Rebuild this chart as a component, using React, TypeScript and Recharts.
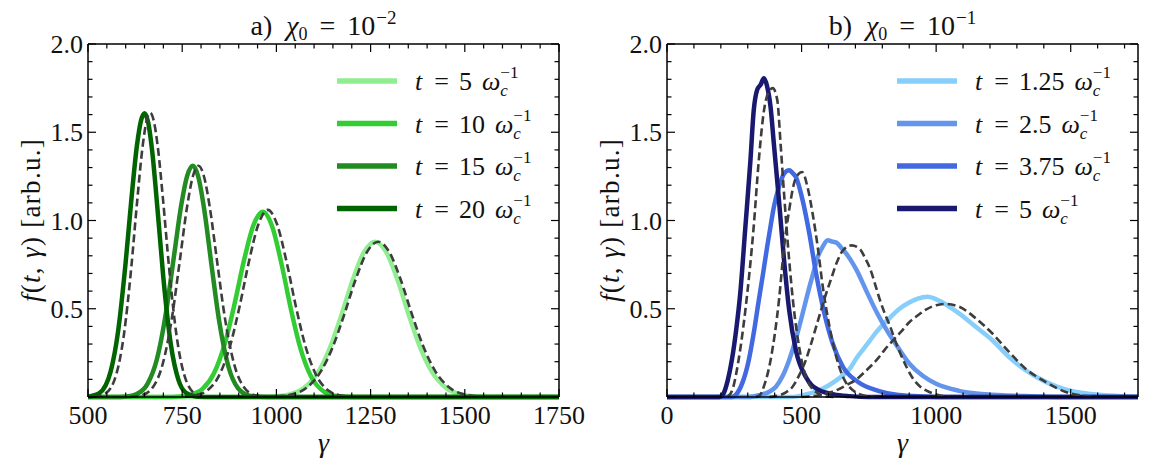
import React from "react";
import { LineChart, Line, XAxis, YAxis, Legend } from "recharts";

// ---------- panel a) chi0 = 1e-2 ----------
const gA5 = [500, 950, 992, 1032, 1072, 1112, 1142, 1172, 1202, 1232, 1262, 1292, 1322, 1352, 1382, 1412, 1452, 1492, 1532, 1580, 1750];
const fA5 = [0, 0, 0.003, 0.013, 0.049, 0.145, 0.278, 0.46, 0.66, 0.819, 0.88, 0.819, 0.66, 0.46, 0.278, 0.145, 0.049, 0.013, 0.003, 0, 0];
const gA10 = [500, 700, 744, 774, 804, 834, 864, 889, 914, 939, 964, 989, 1014, 1039, 1064, 1094, 1124, 1154, 1184, 1230, 1750];
const fA10 = [0, 0, 0.003, 0.013, 0.046, 0.133, 0.31, 0.528, 0.774, 0.973, 1.05, 0.965, 0.75, 0.493, 0.274, 0.108, 0.034, 0.008, 0.002, 0, 0];
const gA15 = [500, 570, 603, 628, 658, 683, 708, 728, 748, 763, 778, 793, 808, 828, 848, 873, 898, 928, 958, 1000, 1750];
const fA15 = [0, 0, 0.003, 0.015, 0.074, 0.215, 0.492, 0.795, 1.094, 1.252, 1.31, 1.245, 1.069, 0.744, 0.432, 0.17, 0.05, 0.008, 0.001, 0, 0];
const gA20 = [500, 530, 560, 580, 600, 615, 630, 640, 650, 660, 670, 685, 700, 720, 740, 760, 790, 830, 1750];
const fA20 = [0.002, 0.022, 0.144, 0.374, 0.764, 1.116, 1.427, 1.56, 1.607, 1.552, 1.399, 1.051, 0.676, 0.295, 0.097, 0.024, 0.002, 0, 0];

// model (dashed)
const mA5g = [1000, 1040, 1080, 1120, 1150, 1180, 1210, 1240, 1270, 1300, 1330, 1360, 1390, 1420, 1460, 1500, 1540];
const mA5f = [0.003, 0.014, 0.052, 0.152, 0.286, 0.467, 0.664, 0.82, 0.88, 0.82, 0.664, 0.467, 0.286, 0.152, 0.052, 0.014, 0.003];
const mA10g = [757, 787, 817, 847, 877, 902, 927, 952, 977, 1002, 1027, 1052, 1077, 1107, 1137, 1167, 1197];
const mA10f = [0.002, 0.01, 0.038, 0.118, 0.289, 0.51, 0.766, 0.977, 1.06, 0.977, 0.766, 0.51, 0.289, 0.118, 0.038, 0.01, 0.002];
const mA15g = [613, 643, 673, 698, 723, 743, 763, 778, 793, 808, 823, 843, 863, 888, 913, 943, 973];
const mA15f = [0.001, 0.01, 0.058, 0.185, 0.452, 0.762, 1.078, 1.248, 1.31, 1.248, 1.078, 0.762, 0.452, 0.185, 0.058, 0.01, 0.001];
const mA20g = [515, 545, 575, 595, 615, 630, 645, 655, 665, 675, 685, 700, 715, 735, 755, 785, 815];
const mA20f = [0.001, 0.018, 0.128, 0.348, 0.737, 1.098, 1.421, 1.56, 1.61, 1.56, 1.421, 1.098, 0.737, 0.348, 0.128, 0.018, 0.001];

// ---------- panel b) chi0 = 1e-1 ----------
const gB1 = [0, 450, 491, 530, 566, 600, 629, 655, 679, 704, 729, 754, 779, 804, 829, 864, 900, 932, 968, 1005, 1045, 1085, 1147, 1208, 1270, 1331, 1405, 1479, 1577, 1676, 1750];
const fB1 = [0, 0, 0.005, 0.02, 0.038, 0.065, 0.094, 0.125, 0.16, 0.22, 0.27, 0.32, 0.37, 0.413, 0.45, 0.5, 0.535, 0.558, 0.568, 0.55, 0.515, 0.474, 0.398, 0.323, 0.228, 0.153, 0.087, 0.043, 0.017, 0.006, 0.002];
const gB2 = [0, 300, 341, 380, 404, 430, 454, 475, 491, 510, 529, 545, 560, 578, 597, 615, 629, 645, 666, 685, 704, 741, 779, 816, 854, 900, 950, 1000, 1085, 1184, 1331, 1450, 1750];
const fB2 = [0, 0, 0.01, 0.03, 0.057, 0.12, 0.21, 0.31, 0.397, 0.51, 0.623, 0.71, 0.793, 0.85, 0.888, 0.88, 0.875, 0.85, 0.812, 0.77, 0.72, 0.6, 0.48, 0.38, 0.29, 0.19, 0.12, 0.075, 0.035, 0.015, 0.005, 0, 0];
const gB3 = [0, 240, 254, 280, 304, 322, 341, 357, 372, 385, 397, 416, 435, 454, 466, 479, 504, 529, 554, 585, 616, 654, 710, 785, 860, 950, 1050, 1750];
const fB3 = [0, 0, 0.01, 0.08, 0.21, 0.36, 0.548, 0.7, 0.85, 0.97, 1.076, 1.19, 1.265, 1.284, 1.27, 1.246, 1.114, 0.925, 0.699, 0.472, 0.302, 0.17, 0.085, 0.035, 0.011, 0.003, 0, 0];
const gB4 = [0, 195, 210, 225, 241, 257, 272, 291, 310, 322, 335, 348, 360, 372, 385, 397, 416, 435, 454, 479, 516, 566, 620, 680, 750, 1750];
const fB4 = [0, 0, 0.02, 0.09, 0.21, 0.38, 0.585, 0.96, 1.34, 1.62, 1.74, 1.77, 1.806, 1.76, 1.64, 1.435, 1.115, 0.774, 0.491, 0.264, 0.113, 0.038, 0.015, 0.005, 0, 0];

const mB1g = [500, 529, 580, 629, 670, 704, 740, 779, 810, 839, 870, 901, 930, 962, 1000, 1036, 1085, 1147, 1208, 1270, 1331, 1405, 1479, 1552, 1600];
const mB1f = [0, 0.003, 0.015, 0.038, 0.07, 0.1, 0.15, 0.21, 0.27, 0.32, 0.37, 0.425, 0.46, 0.495, 0.52, 0.527, 0.512, 0.446, 0.361, 0.257, 0.162, 0.087, 0.03, 0.006, 0];
const mB2g = [380, 404, 440, 466, 490, 516, 535, 554, 572, 591, 610, 629, 654, 685, 716, 735, 754, 775, 791, 810, 829, 850, 866, 890, 916, 940, 966, 1011, 1050];
const mB2f = [0, 0.005, 0.025, 0.057, 0.12, 0.21, 0.3, 0.397, 0.49, 0.585, 0.67, 0.755, 0.831, 0.859, 0.84, 0.79, 0.73, 0.63, 0.55, 0.47, 0.4, 0.31, 0.25, 0.17, 0.1, 0.06, 0.035, 0.01, 0];
const mB3g = [330, 345, 360, 385, 416, 435, 454, 472, 490, 502, 522, 541, 560, 579, 604, 629, 654, 691, 741, 770];
const mB3f = [0, 0.01, 0.06, 0.21, 0.548, 0.85, 1.06, 1.21, 1.265, 1.275, 1.19, 1.04, 0.85, 0.623, 0.397, 0.227, 0.113, 0.038, 0.005, 0];
const mB4g = [225, 245, 266, 291, 322, 341, 360, 375, 393, 410, 422, 435, 454, 472, 491, 516, 554, 591, 620];
const mB4f = [0, 0.05, 0.21, 0.49, 0.963, 1.34, 1.62, 1.72, 1.75, 1.68, 1.435, 1.15, 0.774, 0.49, 0.283, 0.113, 0.028, 0.003, 0];

// ---------- labels / ticks ----------
const timesA = ["5", "10", "15", "20"];
const timesB = ["1.25", "2.5", "3.75", "5"];
const colorsA = ["#90EE90", "#32CD32", "#228B22", "#006400"];
const colorsB = ["#87CEFA", "#6495ED", "#4169E1", "#191970"];
const xMajorA = [500, 750, 1000, 1250, 1500, 1750];
const xMajorB = [0, 500, 1000, 1500];
const yMajor = [0.5, 1.0, 1.5, 2.0];

const xTicksA = Array.from({ length: 26 }, (_, i) => 500 + i * 50);
const xTicksB = Array.from({ length: 18 }, (_, i) => i * 100);
const yTicks = Array.from({ length: 21 }, (_, i) => Math.round(i * 10) / 100);

const FONT = "'Liberation Serif', 'DejaVu Serif', serif";
const PLOT_TOP = 44;
const PLOT_BOTTOM = 397;
const DASH = "#3d3d3d";

const pts = (g: number[], f: number[]) => g.map((x, i) => ({ g: x, f: f[i] }));

const isMajor = (v: number, majors: number[]) => majors.some((m) => Math.abs(m - v) < 1e-6);

interface PanelProps {
  width: number;
  plotLeft: number;
  plotRight: number;
  domain: [number, number];
  xTicks: number[];
  xMajors: number[];
  solids: { g: number[]; f: number[] }[];
  models: { g: number[]; f: number[] }[];
  colors: string[];
  times: string[];
  letter: string;
  exponent: string;
  legendLeft: number;
}

const Panel: React.FC<PanelProps> = (p) => {
  const center = (p.plotLeft + p.plotRight) / 2;

  const bottomTick = (t: any) => {
    const v = t.payload.value;
    const major = isMajor(v, p.xMajors);
    return (
      <g>
        <line x1={t.x} x2={t.x} y1={PLOT_BOTTOM} y2={PLOT_BOTTOM - (major ? 8 : 4.5)} stroke="#000" strokeWidth={1.2} />
        {major && (
          <text x={t.x} y={PLOT_BOTTOM + 27} textAnchor="middle" fontSize={26} fontFamily={FONT} fill="#111">
            {v}
          </text>
        )}
      </g>
    );
  };
  const topTick = (t: any) => {
    const major = isMajor(t.payload.value, p.xMajors);
    return <line x1={t.x} x2={t.x} y1={PLOT_TOP} y2={PLOT_TOP + (major ? 8 : 4.5)} stroke="#000" strokeWidth={1.2} />;
  };
  const leftTick = (t: any) => {
    const v = t.payload.value;
    const major = Math.abs(v * 2 - Math.round(v * 2)) < 1e-6;
    const labelled = isMajor(v, yMajor);
    return (
      <g>
        <line x1={p.plotLeft} x2={p.plotLeft + (major ? 8 : 4.5)} y1={t.y} y2={t.y} stroke="#000" strokeWidth={1.2} />
        {labelled && (
          <text x={p.plotLeft - 5} y={t.y + 9} textAnchor="end" fontSize={26} fontFamily={FONT} fill="#111">
            {v.toFixed(1)}
          </text>
        )}
      </g>
    );
  };
  const rightTick = (t: any) => {
    const v = t.payload.value;
    const major = Math.abs(v * 2 - Math.round(v * 2)) < 1e-6;
    return <line x1={p.plotRight} x2={p.plotRight - (major ? 8 : 4.5)} y1={t.y} y2={t.y} stroke="#000" strokeWidth={1.2} />;
  };

  const title = () => (
    <text x={center} y={35} textAnchor="middle" fontSize={28} fontFamily={FONT} fill="#111">
      <tspan>{p.letter})</tspan>
      <tspan dx={14} fontStyle="italic">χ</tspan>
      <tspan fontSize={18} dy={5}>0</tspan>
      <tspan dx={12} dy={-5}>=</tspan>
      <tspan dx={12}>10</tspan>
      <tspan fontSize={19} dx={1} dy={-11}>−{p.exponent}</tspan>
    </text>
  );
  const xTitle = () => (
    <text x={center} y={452} textAnchor="middle" fontSize={28} fontFamily={FONT} fontStyle="italic" fill="#111">
      γ
    </text>
  );
  const yTitle = () => (
    <text transform={`translate(${p.plotLeft - 57},220) rotate(-90)`} textAnchor="middle" dominantBaseline="central"
      fontSize={27} letterSpacing={1.3} fontFamily={FONT} fill="#111">
      <tspan fontStyle="italic">f</tspan>
      <tspan>(</tspan>
      <tspan fontStyle="italic">t</tspan>
      <tspan>, </tspan>
      <tspan fontStyle="italic">γ</tspan>
      <tspan>) [arb.u.]</tspan>
    </text>
  );

  const legend = () => (
    <svg width={240} height={175}>
      {p.times.map((t, i) => {
        const y = 21 + i * 42.5;
        return (
          <g key={t}>
            <line x1={7} x2={67} y1={y} y2={y} stroke={p.colors[i]} strokeWidth={5.5} />
            <text x={85} y={y + 9} fontSize={26} fontFamily={FONT} fill="#111">
              <tspan fontStyle="italic">t</tspan>
              <tspan dx={12}>=</tspan>
              <tspan dx={10}>{t}</tspan>
              <tspan dx={10} fontStyle="italic">ω</tspan>
              <tspan fontStyle="italic" fontSize={17} dy={6}>c</tspan>
              <tspan fontSize={17} dx={-7.5} dy={-18}>−1</tspan>
            </text>
          </g>
        );
      })}
    </svg>
  );

  const frame = { stroke: "#000", strokeWidth: 1.5 };

  return (
    <LineChart
      width={p.width}
      height={473}
      margin={{ top: PLOT_TOP - 1, bottom: 473 - PLOT_BOTTOM - 1, left: p.plotLeft - 1, right: p.width - p.plotRight - 1 }}
    >
      <XAxis xAxisId="b" type="number" dataKey="g" domain={p.domain} ticks={p.xTicks} interval={0}
        tick={bottomTick} tickLine={false} tickSize={0} height={1} axisLine={frame} label={{ content: xTitle }} />
      <XAxis xAxisId="t" orientation="top" type="number" dataKey="g" domain={p.domain} ticks={p.xTicks} interval={0}
        tick={topTick} tickLine={false} tickSize={0} height={1} axisLine={frame} label={{ content: title }} />
      <YAxis yAxisId="l" type="number" domain={[0, 2]} ticks={yTicks} interval={0}
        tick={leftTick} tickLine={false} tickSize={0} width={1} axisLine={frame} label={{ content: yTitle }} />
      <YAxis yAxisId="r" orientation="right" type="number" domain={[0, 2]} ticks={yTicks} interval={0}
        tick={rightTick} tickLine={false} tickSize={0} width={1} axisLine={frame} />
      {p.solids.map((s, i) => (
        <Line key={`s${i}`} xAxisId="b" yAxisId="l" data={pts(s.g, s.f)} dataKey="f" type="monotone"
          stroke={p.colors[i]} strokeWidth={4.5} dot={false} isAnimationActive={false} legendType="none" />
      ))}
      {p.models.map((s, i) => (
        <Line key={`m${i}`} xAxisId="t" yAxisId="r" data={pts(s.g, s.f)} dataKey="f" type="monotone"
          stroke={DASH} strokeWidth={2.6} strokeDasharray="8 4" dot={false} isAnimationActive={false} legendType="none" />
      ))}
      <Legend layout="vertical" align="center" verticalAlign="middle" content={legend}
        wrapperStyle={{ left: p.legendLeft, top: 60, width: 240, height: 175 }} />
    </LineChart>
  );
};

export default function App() {
  return (
    <div style={{ position: "absolute", left: 0, top: 0, width: 1149, height: 473, background: "#fff" }}>
      <div style={{ position: "absolute", left: 0, top: 0 }}>
        <Panel
          width={600}
          plotLeft={88}
          plotRight={559}
          domain={[500, 1750]}
          xTicks={xTicksA}
          xMajors={xMajorA}
          solids={[{ g: gA5, f: fA5 }, { g: gA10, f: fA10 }, { g: gA15, f: fA15 }, { g: gA20, f: fA20 }]}
          models={[{ g: mA5g, f: mA5f }, { g: mA10g, f: mA10f }, { g: mA15g, f: mA15f }, { g: mA20g, f: mA20f }]}
          colors={colorsA}
          times={timesA}
          letter="a"
          exponent="2"
          legendLeft={330}
        />
      </div>
      <div style={{ position: "absolute", left: 575, top: 0 }}>
        <Panel
          width={574}
          plotLeft={92}
          plotRight={563}
          domain={[0, 1750]}
          xTicks={xTicksB}
          xMajors={xMajorB}
          solids={[{ g: gB1, f: fB1 }, { g: gB2, f: fB2 }, { g: gB3, f: fB3 }, { g: gB4, f: fB4 }]}
          models={[{ g: mB1g, f: mB1f }, { g: mB2g, f: mB2f }, { g: mB3g, f: mB3f }, { g: mB4g, f: mB4f }]}
          colors={colorsB}
          times={timesB}
          letter="b"
          exponent="1"
          legendLeft={315}
        />
      </div>
    </div>
  );
}
